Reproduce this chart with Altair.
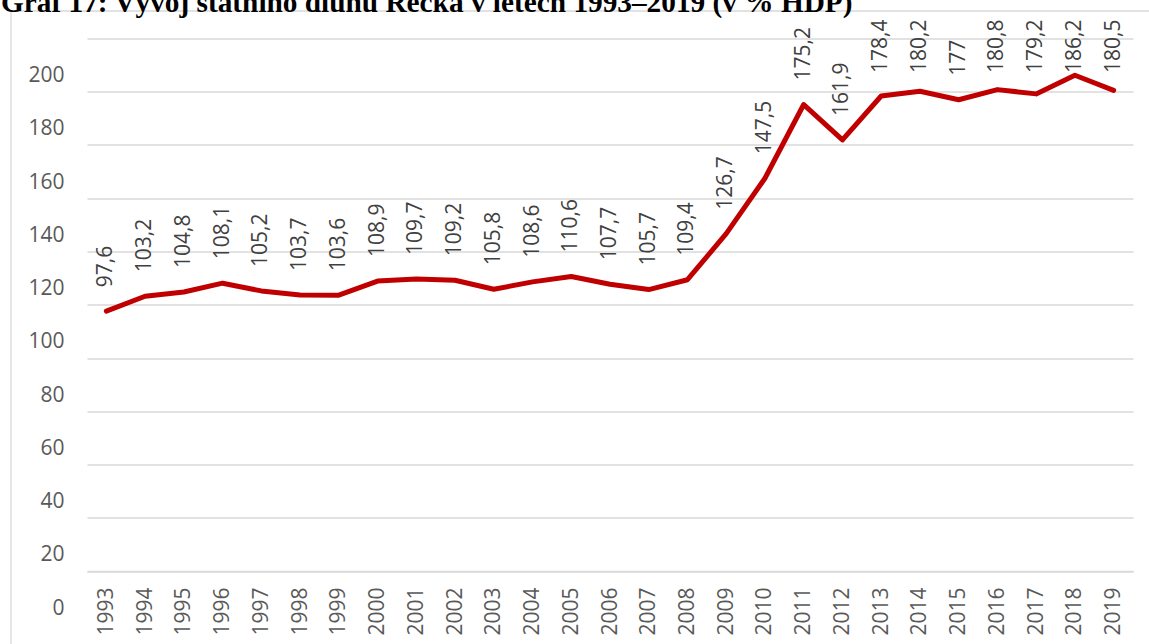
import altair as alt
import pandas as pd

# ---- data ----
years = ["1993", "1994", "1995", "1996", "1997", "1998", "1999", "2000", "2001",
         "2002", "2003", "2004", "2005", "2006", "2007", "2008", "2009", "2010",
         "2011", "2012", "2013", "2014", "2015", "2016", "2017", "2018", "2019"]
debt = [97.6, 103.2, 104.8, 108.1, 105.2, 103.7, 103.6, 108.9, 109.7, 109.2,
        105.8, 108.6, 110.6, 107.7, 105.7, 109.4, 126.7, 147.5, 175.2, 161.9,
        178.4, 180.2, 177, 180.8, 179.2, 186.2, 180.5]
labels = [f"{v:g}".replace(".", ",") for v in debt]
y_ticks = [0, 20, 40, 60, 80, 100, 120, 140, 160, 180, 200]
title_text = "Graf 17: Vývoj státního dluhu Řecka v letech 1993–2019 (v % HDP)"

df = pd.DataFrame({"year": years, "debt": debt, "label": labels})

# ---- layout ----
W, H = 1046, 532.5
PAD = {"left": 87, "top": 38.5, "right": 16, "bottom": 73}
UNIT = H / 200.0              # pixels per data unit
GAP = 24 / UNIT               # label gap above the point
CEIL = 200 + 18.5 / UNIT      # labels kept inside the chart frame
CHAR = 10.6 / UNIT            # approx. label length per character

GRID = "#d9d9d9"
FONT = "Open Sans"

x_enc = alt.X(
    "year:O",
    sort=years,
    scale=alt.Scale(type="point", padding=0.5),
    axis=alt.Axis(
        title=None, labelAngle=270, ticks=False, grid=False,
        domainColor=GRID, domainWidth=1.3, labelPadding=16,
        labelFont=FONT, labelFontSize=21, labelColor="#595959",
        labelAlign="right", labelBaseline="middle",
    ),
)

y_scale = alt.Scale(domain=[0, 200], nice=False, zero=True)

base = alt.Chart(df)

line = base.mark_line(
    color="#C00000", strokeWidth=5, strokeJoin="round", strokeCap="round"
).encode(
    x=x_enc,
    y=alt.Y(
        "debt:Q",
        scale=y_scale,
        axis=alt.Axis(
            values=y_ticks, title=None, domain=False, ticks=False,
            labelOffset=37, labelPadding=23, labelFlush=False,
            labelFont=FONT, labelFontSize=21, labelColor="#595959",
            gridColor=GRID, gridWidth=1.3,
        ),
    ),
)

text = base.transform_calculate(
    label_pos=f"min(datum.debt + {GAP}, {CEIL} - length(datum.label) * {CHAR})"
).mark_text(
    angle=270, align="left", baseline="middle",
    font=FONT, fontSize=21, color="#404040",
).encode(
    x=alt.X("year:O", sort=years),
    y=alt.Y("label_pos:Q", scale=y_scale),
    text="label:N",
)

one = alt.Data(values=[{"k": 1}])
frame_top = alt.Chart(one).mark_rule(color=GRID, strokeWidth=1.3).encode(
    x=alt.value(-76), x2=alt.value(1062), y=alt.value(-27.5)
)
frame_left = alt.Chart(one).mark_rule(color=GRID, strokeWidth=1.3).encode(
    x=alt.value(-76), y=alt.value(-27.5), y2=alt.value(606)
)
title = alt.Chart(alt.Data(values=[{"t": title_text}])).mark_text(
    font="Liberation Serif", fontSize=29.3, fontWeight="bold", color="black",
    align="left", baseline="alphabetic",
).encode(
    x=alt.value(-86), y=alt.value(-26.5), text="t:N"
)

chart = alt.layer(frame_top, frame_left, line, text, title).properties(
    width=W,
    height=H,
    padding=PAD,
    autosize=alt.AutoSizeParams(type="none"),
).configure_view(stroke=None)

chart.save("out.html", embed_options={"renderer": "svg", "actions": False})
